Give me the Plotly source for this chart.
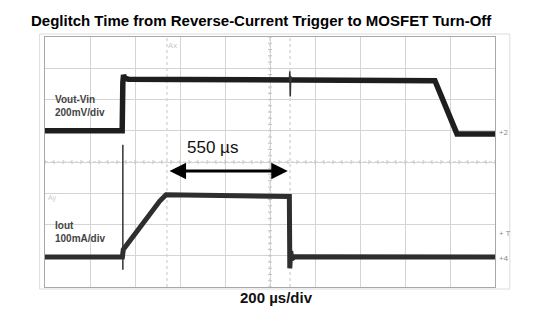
import plotly.graph_objects as go

# ---- data (time in µs, amplitude in screen divisions) ----
vout_t = [0, 343, 346, 349, 355, 370, 600, 900, 1085, 1733, 1831, 2000]
vout_v = [5.0, 5.0, 6.55, 6.78, 6.68, 6.65, 6.64, 6.63, 6.62, 6.6, 4.9, 4.9]
vout_spike_t = [1086, 1088, 1090, 1092, 1095]
vout_spike_v = [6.6, 6.9, 6.1, 6.75, 6.6]

iout_t = [0, 344, 348, 380, 410, 450, 480, 510, 538, 800, 1086, 1088, 1092, 1097, 1110, 2000]
iout_v = [0.96, 0.96, 1.2, 1.5, 1.82, 2.2, 2.5, 2.75, 2.95, 2.93, 2.9, 0.6, 1.15, 0.9, 0.97, 0.96]
iout_spike_t = [346, 346]
iout_spike_v = [0.55, 4.55]

cursor_t = [542, 1089]
measure_label = "550 µs"
x_div_label = "200 µs/div"
title = "Deglitch Time from Reverse-Current Trigger to MOSFET Turn-Off"
ch_labels = ["Vout-Vin<br>200mV/div", "Iout<br>100mA/div"]

fig = go.Figure()

# centre-line minor ticks
tick_x = list(range(0, 2001, 40))
fig.add_trace(go.Scatter(x=tick_x, y=[4] * len(tick_x), mode="markers",
                         marker=dict(symbol="line-ns-open", size=3, color="#c4c4c4", line=dict(width=1, color="#c4c4c4")),
                         hoverinfo="skip", showlegend=False))
tick_y = [i * 0.2 for i in range(41)]
fig.add_trace(go.Scatter(x=[1000] * len(tick_y), y=tick_y, mode="markers",
                         marker=dict(symbol="line-ew-open", size=3, color="#c4c4c4", line=dict(width=1, color="#c4c4c4")),
                         hoverinfo="skip", showlegend=False))

# traces
fig.add_trace(go.Scatter(x=vout_t, y=vout_v, mode="lines",
                         line=dict(color="#1e1e1e", width=5.5), showlegend=False))
fig.add_trace(go.Scatter(x=vout_spike_t, y=vout_spike_v, mode="lines",
                         line=dict(color="#333", width=1.5), showlegend=False))
fig.add_trace(go.Scatter(x=iout_t, y=iout_v, mode="lines",
                         line=dict(color="#2e2e2e", width=5), showlegend=False))
fig.add_trace(go.Scatter(x=iout_spike_t, y=iout_spike_v, mode="lines",
                         line=dict(color="#333", width=1.5), showlegend=False))

shapes = []
for c in cursor_t:
    shapes.append(dict(type="line", x0=c, x1=c, y0=0, y1=8, xref="x", yref="y",
                       line=dict(color="#c4c4c4", width=1, dash="dot"), layer="below"))
shapes.append(dict(type="line", x0=1000, x1=1000, y0=0, y1=8, xref="x", yref="y",
                   line=dict(color="#c4c4c4", width=1, dash="dot"), layer="below"))
shapes.append(dict(type="line", x0=0, x1=2000, y0=4, y1=4, xref="x", yref="y",
                   line=dict(color="#c4c4c4", width=1, dash="dot"), layer="below"))
shapes.append(dict(type="rect", xref="paper", yref="paper", x0=-0.012, x1=1.033, y0=-0.008, y1=1.012,
                   line=dict(color="#dcdcdc", width=1), layer="below"))
fig.update_layout(shapes=shapes)

annotations = [
    dict(text=f"<b>{title}</b>", xref="paper", yref="paper", x=0.482, y=1.0, yshift=17, showarrow=False,
         font=dict(family="Liberation Sans", size=15, color="#000"), xanchor="center", yanchor="middle"),
    dict(text=f"<b>{x_div_label}</b>", xref="paper", yref="paper", x=0.515, y=0, yshift=-10,
         showarrow=False, yanchor="middle",
         font=dict(family="Liberation Sans", size=15, color="#111")),
    dict(text=measure_label, x=(cursor_t[0] + cursor_t[1]) / 2 - 70, y=4.45, xref="x", yref="y",
         showarrow=False, font=dict(family="Liberation Sans", size=17, color="#111")),
    dict(x=cursor_t[1] - 10, y=3.71, ax=cursor_t[0] + 5, ay=3.71, xref="x", yref="y", axref="x", ayref="y",
         text="", showarrow=True, arrowhead=2, arrowsize=1.1, arrowwidth=3, arrowcolor="#000",
         startarrowhead=2, startarrowsize=1.1, arrowside="end+start"),
    dict(text=f"<b>{ch_labels[0]}</b>", x=35, y=5.8, xref="x", yref="y", showarrow=False,
         xanchor="left", align="left", font=dict(family="Liberation Sans", size=10, color="#444")),
    dict(text=f"<b>{ch_labels[1]}</b>", x=35, y=1.75, xref="x", yref="y", showarrow=False,
         xanchor="left", align="left", font=dict(family="Liberation Sans", size=10, color="#444")),
    dict(text="+2", x=2000, y=4.98, xref="x", yref="y", showarrow=False, xanchor="left", xshift=2,
         font=dict(size=8, color="#888")),
    dict(text="+ T", x=2000, y=1.75, xref="x", yref="y", showarrow=False, xanchor="left", xshift=2,
         font=dict(size=8, color="#888")),
    dict(text="+4", x=2000, y=0.96, xref="x", yref="y", showarrow=False, xanchor="left", xshift=2,
         font=dict(size=8, color="#888")),
    dict(text="Ax", x=cursor_t[0], y=7.75, xref="x", yref="y", showarrow=False, xshift=6,
         font=dict(size=8, color="#c8c8c8")),
    dict(text="Ay", x=0, y=2.85, xref="x", yref="y", showarrow=False, xanchor="left", xshift=1,
         font=dict(size=7, color="#c8c8c8")),
]
fig.update_layout(annotations=annotations)

fig.update_xaxes(range=[0, 2000], dtick=200, tick0=0, showgrid=True, gridcolor="#d4d4d4", gridwidth=1,
                 showticklabels=False, ticks="", zeroline=False,
                 showline=True, mirror=True, linecolor="#a8a8a8", linewidth=1)
fig.update_yaxes(range=[0, 8], dtick=1, tick0=0, showgrid=True, gridcolor="#d4d4d4", gridwidth=1,
                 showticklabels=False, ticks="", zeroline=False,
                 showline=True, mirror=True, linecolor="#a8a8a8", linewidth=1)

fig.update_layout(width=553, height=317, margin=dict(l=45, r=58, t=37, b=30),
                  paper_bgcolor="white", plot_bgcolor="white", showlegend=False)

fig.write_html("out.html")
